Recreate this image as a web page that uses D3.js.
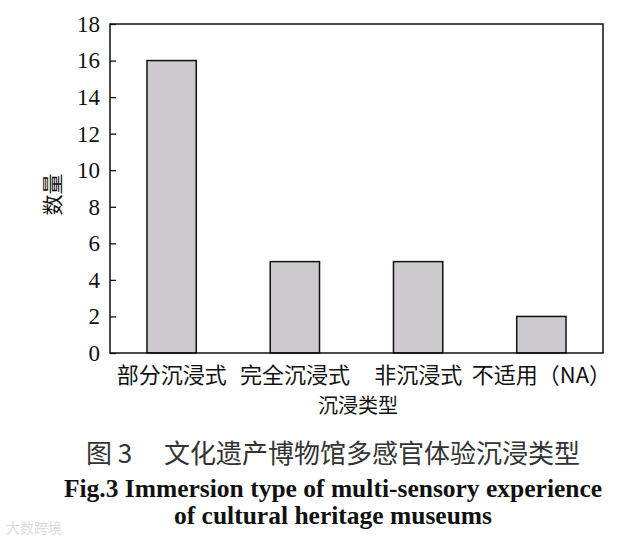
<!DOCTYPE html>
<html><head><meta charset="utf-8">
<script src="https://cdn.jsdelivr.net/npm/d3@7"></script>
<style>body{margin:0;background:#fff}</style>
</head><body>
<script>
const categories = ["部分沉浸式","完全沉浸式","非沉浸式","不适用（NA）"];
const values = [16,5,5,2];
const yTicks = [0,2,4,6,8,10,12,14,16,18];
const yTitle = "数量";
const xTitle = "沉浸类型";
const captionCN = "图 3　 文化遗产博物馆多感官体验沉浸类型";
const captionEN1 = "Fig.3 Immersion type of multi-sensory experience";
const captionEN2 = "of cultural heritage museums";

const W=644,H=546;
const m={left:110,top:24,right:603,bottom:353};
const svg=d3.select("body").append("svg").attr("width",W).attr("height",H);
const x=d3.scaleBand().domain(categories).range([m.left,m.right]).paddingInner(0.6).paddingOuter(0.3);
const y=d3.scaleLinear().domain([0,18]).range([m.bottom,m.top]);
const serif="'Liberation Serif','Times New Roman',serif";
const cjk="'Noto Sans CJK SC','Noto Sans',sans-serif";

svg.selectAll("rect.bar").data(values).enter().append("rect")
 .attr("x",(d,i)=>x(categories[i])).attr("y",d=>y(d))
 .attr("width",x.bandwidth()).attr("height",d=>y(0)-y(d))
 .attr("fill","#cdc9ce").attr("stroke","#111").attr("stroke-width",1.5);

svg.append("rect").attr("x",m.left).attr("y",m.top).attr("width",m.right-m.left).attr("height",m.bottom-m.top)
 .attr("fill","none").attr("stroke","#111").attr("stroke-width",1.5);

const ya=svg.append("g").attr("transform",`translate(${m.left},0)`)
 .call(d3.axisLeft(y).tickValues(yTicks).tickSizeInner(-6).tickSizeOuter(0).tickPadding(10));
ya.select(".domain").remove();
ya.selectAll("line").attr("stroke","#111").attr("stroke-width",1.3);
ya.selectAll("text").attr("font-family",serif).attr("font-size",23).attr("fill","#111");

const xa=svg.append("g").attr("transform",`translate(0,${m.bottom})`)
 .call(d3.axisBottom(x).tickSize(0).tickPadding(14));
xa.select(".domain").remove();
xa.selectAll("text").attr("font-family",cjk).attr("font-size",22).attr("fill","#111");

svg.append("text").attr("transform",`translate(60,${(m.top+m.bottom)/2+6}) rotate(-90)`)
 .attr("text-anchor","middle").attr("font-family",cjk).attr("font-size",21).attr("fill","#111").text(yTitle);
svg.append("text").attr("x",358).attr("y",413).attr("text-anchor","middle")
 .attr("font-family",cjk).attr("font-size",20).attr("fill","#111").text(xTitle);

svg.append("text").attr("x",333).attr("y",463).attr("text-anchor","middle")
 .attr("font-family",cjk).attr("font-size",26).attr("fill","#333").text(captionCN);
svg.append("text").attr("x",333).attr("y",497).attr("text-anchor","middle")
 .attr("font-family",serif).attr("font-weight","bold").attr("font-size",25.5).attr("fill","#111").text(captionEN1);
svg.append("text").attr("x",333).attr("y",524).attr("text-anchor","middle")
 .attr("font-family",serif).attr("font-weight","bold").attr("font-size",25.5).attr("fill","#111").text(captionEN2);
svg.append("text").attr("x",6).attr("y",533).attr("font-family",cjk).attr("font-size",14).attr("fill","#ddd").text("大数跨境");
</script>
</body></html>
